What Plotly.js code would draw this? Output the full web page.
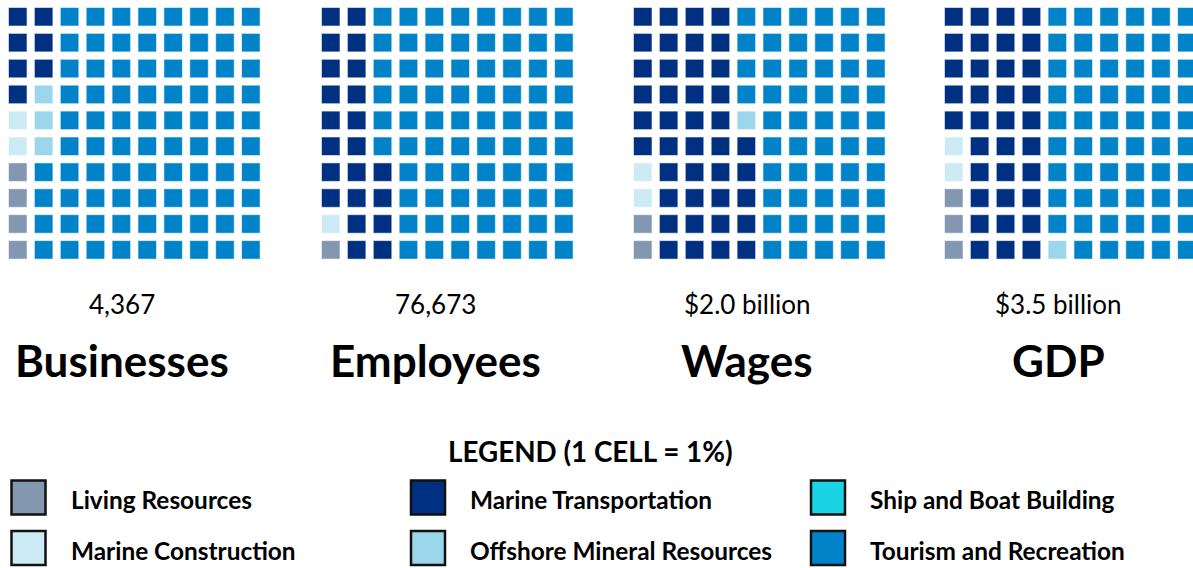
<!DOCTYPE html>
<html><head><meta charset="utf-8">
<script src="https://cdn.plot.ly/plotly-3.0.1.min.js"></script>
<style>html,body{margin:0;padding:0;background:#fff}#chart{width:1193px;height:568px}</style>
</head><body><div id="chart"></div>
<script>
// ---- data ----
var categories = ["Living Resources","Marine Construction","Marine Transportation","Offshore Mineral Resources","Ship and Boat Building","Tourism and Recreation"];
var colors = ["#8497b0","#cdebf4","#003082","#9cd6ea","#1ad4e6","#0083c8"];
var metrics = ["Businesses","Employees","Wages","GDP"];
var metricValues = ["4,367","76,673","$2.0 billion","$3.5 billion"];
var businesses = [4, 2, 7, 3, 0, 84];
var employees  = [1, 1, 22, 0, 0, 76];
var wages      = [2, 2, 41, 1, 0, 54];
var gdp        = [3, 2, 35, 1, 0, 59];
var series = [businesses, employees, wages, gdp];
var legendTitle = "LEGEND (1 CELL = 1%)";

// ---- layout constants (px) ----
var W = 1193, H = 568;
var pitch = 25.9;
var gridLeft = [8, 321, 633, 944];
var gridTop = 7;
var cell = 19.5;

var traces = [];
var layout = {
  width: W, height: H, margin: {l:0, r:0, t:0, b:0},
  paper_bgcolor: "#fff", plot_bgcolor: "rgba(0,0,0,0)",
  showlegend: false, annotations: [],
  font: {family: "Lato, 'Open Sans', sans-serif", color: "#000"}
};

series.forEach(function(vals, g) {
  var xs = [], ys = [], cs = [];
  var i = 0;
  vals.forEach(function(n, k) {
    for (var j = 0; j < n; j++, i++) {
      var col = Math.floor(i / 10), w = i % 10;
      xs.push(col);
      ys.push(col % 2 === 0 ? w : 9 - w);
      cs.push(colors[k]);
    }
  });
  var ax = g + 1;
  var left = gridLeft[g] - (pitch - cell) / 2;
  var right = Math.min(left + 10 * pitch, W);
  var top = gridTop - (pitch - cell) / 2;
  var bottom = top + 10 * pitch;
  layout["xaxis" + ax] = {domain: [left / W, right / W], range: [-0.5, -0.5 + (right - left) / pitch],
    visible: false, fixedrange: true, anchor: "y" + ax};
  layout["yaxis" + ax] = {domain: [(H - bottom) / H, (H - top) / H], range: [-0.5, 9.5],
    visible: false, fixedrange: true, anchor: "x" + ax};
  traces.push({
    type: "scatter", mode: "markers", x: xs, y: ys,
    xaxis: "x" + ax, yaxis: "y" + ax, cliponaxis: false, hoverinfo: "skip",
    marker: {symbol: "square", size: cell - 1, color: cs, line: {color: "rgba(255,255,255,0.55)", width: 1}}
  });
  var cx = gridLeft[g] + (10 * pitch - (pitch - cell)) / 2 - 12;
  layout.annotations.push({xref: "paper", yref: "paper", x: cx / W, y: (H - 304) / H,
    text: metricValues[g], showarrow: false, xanchor: "center", yanchor: "middle",
    font: {size: 26, family: "Lato, sans-serif", color: "#000"}});
  layout.annotations.push({xref: "paper", yref: "paper", x: cx / W, y: (H - 360) / H,
    text: "<b>" + metrics[g] + "</b>", showarrow: false, xanchor: "center", yanchor: "middle",
    font: {size: 44, family: "Lato, sans-serif", color: "#000"}});
});

// ---- legend (overlay axis in px units) ----
layout.xaxis5 = {domain: [0, 1], range: [0, W], visible: false, fixedrange: true, anchor: "y5"};
layout.yaxis5 = {domain: [0, 1], range: [H, 0], visible: false, fixedrange: true, anchor: "x5"};
var legColX = [28.5, 428, 828], legRowY = [497.5, 548];
var lx = [], ly = [], lc = [];
categories.forEach(function(name, k) {
  var c = Math.floor(k / 2), r = k % 2;
  lx.push(legColX[c]); ly.push(legRowY[r]); lc.push(colors[k]);
  layout.annotations.push({xref: "x5", yref: "y5", x: legColX[c] + 40, y: legRowY[r] + 2,
    text: "<b>" + name + "</b>", showarrow: false, xanchor: "left", yanchor: "middle",
    font: {size: 24.4, family: "Lato, sans-serif", color: "#000"}});
});
traces.push({type: "scatter", mode: "markers", x: lx, y: ly, xaxis: "x5", yaxis: "y5",
  hoverinfo: "skip", cliponaxis: false,
  marker: {symbol: "square", size: 34, color: lc, line: {color: "#111", width: 2.5}}});
layout.annotations.push({xref: "x5", yref: "y5", x: 590, y: 451,
  text: "<b>" + legendTitle + "</b>", showarrow: false, xanchor: "center", yanchor: "middle",
  font: {size: 27.8, family: "Lato, sans-serif", color: "#000"}});

Plotly.newPlot("chart", traces, layout, {displayModeBar: false, staticPlot: true});
</script></body></html>
